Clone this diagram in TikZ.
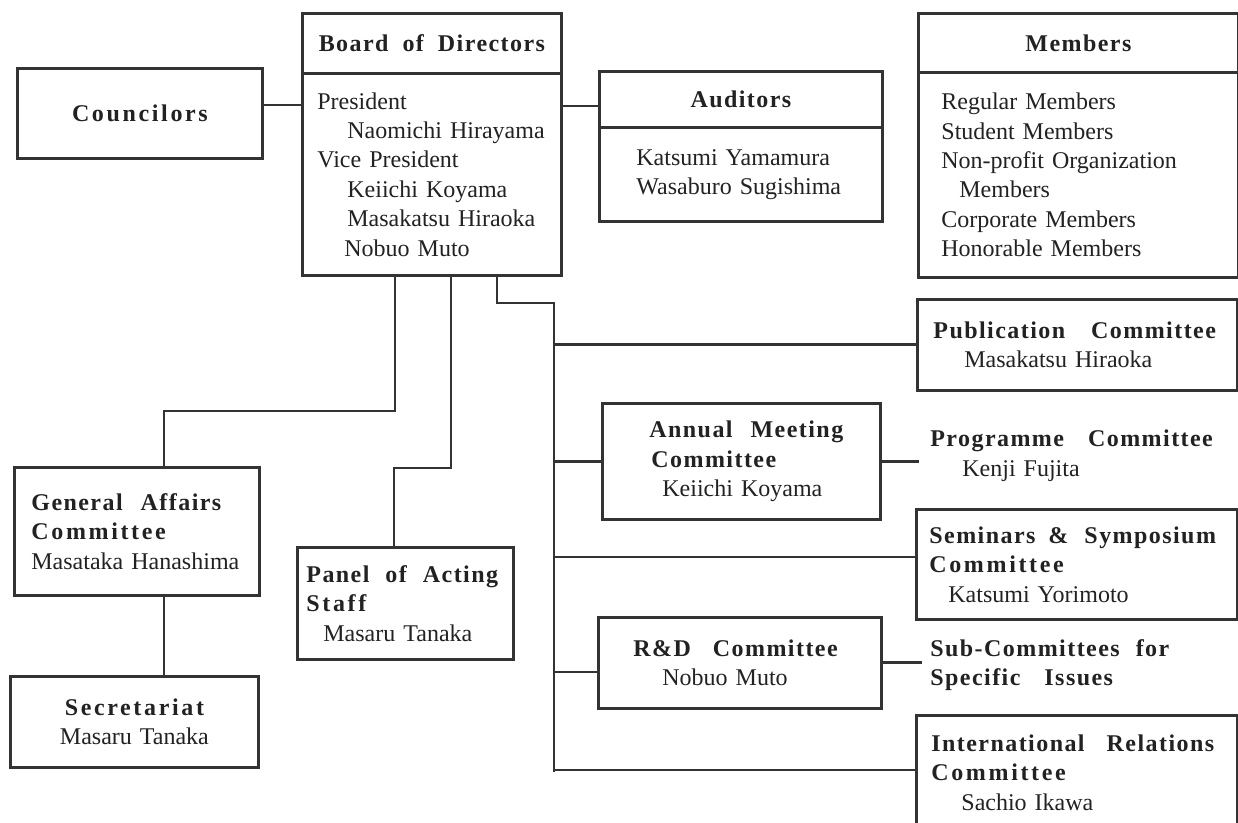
\documentclass[tikz,border=0pt]{standalone}
\usepackage{fontspec}
\setmainfont{Liberation Serif}
\newfontfamily\headfamily{Liberation Serif}[LetterSpace=6]
\newfontfamily\wideheadfamily{Liberation Serif}[LetterSpace=11]
\newcommand{\headfont}{\headfamily\bfseries\fontsize{12pt}{14.7pt}\selectfont}
\newcommand{\wideheadfont}{\wideheadfamily\bfseries\fontsize{12pt}{14.7pt}\selectfont}
\newcommand{\bodyfont}{\rmfamily\mdseries\fontsize{12pt}{14.7pt}\selectfont}
\newcommand{\lpad}[1]{\hspace*{#1}}
\definecolor{inkline}{HTML}{333333}
\definecolor{inktext}{HTML}{222222}
\tikzset{
  orgbox/.style={draw=inkline, line width=1.4pt, anchor=north west, inner xsep=0pt, inner ysep=0pt, align=left, font=\bodyfont, text=inktext},
  headbox/.style={orgbox, align=center, font=\headfont},
  freetext/.style={anchor=base west, inner ysep=0pt, align=left, font=\bodyfont, text=inktext, text width=150pt},
  link/.style={draw=inkline, line width=1.4pt}
}
\begin{document}
\begin{tikzpicture}[x=0.5pt,y=-0.5pt]
        \clip (0,0) rectangle (1238,823);
        \fill[white] (0,0) rectangle (1238,823);

        %top row
        \node[headbox, font=\wideheadfont, text width=122.5pt, minimum height=45pt] (councilors) at (16,67) {Councilors};
        \node[headbox, text width=129.5pt, minimum height=30pt] (boardhead) at (301,12) {Board\hspace{7pt}of\hspace{7pt}Directors};
        \node[orgbox, text width=129.5pt, minimum height=101pt] (boardbody) at (301,72)
          {\lpad{7.5pt}President\\\lpad{22.5pt}Naomichi Hirayama\\\lpad{7.5pt}Vice President\\\lpad{22.5pt}Keiichi Koyama\\\lpad{22.5pt}Masakatsu Hiraoka\\\lpad{21pt}Nobuo Muto};
        \node[headbox, text width=141.5pt, minimum height=28pt] (audhead) at (598,70) {Auditors};
        \node[orgbox, text width=141.5pt, minimum height=47pt] (audbody) at (598,126)
          {\lpad{18.5pt}Katsumi Yamamura\\\lpad{18.5pt}Wasaburo Sugishima};
        \node[headbox, text width=160pt, minimum height=29.5pt] (memhead) at (917,12) {Members};
        \node[orgbox, text width=160pt, minimum height=102.5pt] (membody) at (917,71)
          {\lpad{11.5pt}Regular Members\\\lpad{11.5pt}Student Members\\\lpad{11.5pt}Non-profit Organization\\\lpad{20.5pt}Members\\\lpad{11.5pt}Corporate Members\\\lpad{11.5pt}Honorable Members};

        %committees on the right
        \node[orgbox, text width=160pt, minimum height=45.5pt] (pub) at (916,298)
          {\headfont\lpad{8pt}Publication\hspace{13pt}Committee\\\bodyfont\lpad{23.5pt}Masakatsu Hiraoka};
        \node[orgbox, text width=139pt, minimum height=58pt] (annual) at (601,402)
          {\headfont\lpad{23.5pt}Annual\hspace{9pt}Meeting\\\lpad{24.5pt}Committee\\\bodyfont\lpad{30pt}Keiichi Koyama};
        \node[freetext, inner xsep=5.5pt] (prog) at (919,447)
          {\headfont Programme\hspace{12pt}Committee\\\bodyfont\lpad{16pt}Kenji Fujita};
        \node[orgbox, text width=160.5pt, minimum height=55pt] (sem) at (915,508)
          {\headfont\lpad{6.5pt}Seminars\hspace{6.5pt}\&\hspace{8pt}Symposium\\\wideheadfont\lpad{6.5pt}Committee\\\bodyfont\lpad{16pt}Katsumi Yorimoto};
        \node[orgbox, text width=141.5pt, minimum height=45.5pt] (rd) at (597,616)
          {\headfont\lpad{17.5pt}R\&D\hspace{11pt}Committee\\\bodyfont\lpad{32pt}Nobuo Muto};
        \node[freetext, inner xsep=4pt] (subc) at (922,656)
          {\headfont Sub-Committees\hspace{8pt}for\\Specific\hspace{12pt}Issues};
        \node[orgbox, text width=160.5pt, minimum height=57pt] (intl) at (915,714)
          {\headfont\lpad{7.5pt}International\hspace{11pt}Relations\\\wideheadfont\lpad{7.5pt}Committee\\\bodyfont\lpad{22.5pt}Sachio Ikawa};

        %committees on the left
        \node[orgbox, text width=122.5pt, minimum height=64pt] (general) at (13,466)
          {\headfont\lpad{8.5pt}General\hspace{9pt}Affairs\\\wideheadfont\lpad{8.5pt}Committee\\\bodyfont\lpad{8.5pt}Masataka Hanashima};
        \node[orgbox, text width=108pt, minimum height=56pt] (panel) at (296,546)
          {\headfont\lpad{4.5pt}Panel\hspace{8pt}of\hspace{8pt}Acting\\\wideheadfont\lpad{4.5pt}Staff\\\bodyfont\lpad{13pt}Masaru Tanaka};
        \node[orgbox, align=center, text width=124pt, minimum height=45.5pt] (sec) at (9,675)
          {\wideheadfont Secretariat\\\bodyfont Masaru Tanaka};

        %horizontal links at the top
        \coordinate (cbar) at (0,105);
        \coordinate (abar) at (0,106);
        \draw[link] (councilors.east |- cbar) -- (boardbody.west |- cbar);
        \draw[link] (boardbody.east |- abar) -- (audhead.west |- abar);

        %links down to the left
        \coordinate (ga) at (395,411);
        \coordinate (gb) at (164,411);
        \draw[link] (boardbody.south -| ga) -- (ga) -- (gb) -- (general.north -| gb);
        \draw[link] (general.south -| gb) -- (sec.north -| gb);
        \coordinate (pa) at (451,468);
        \coordinate (pb) at (394,468);
        \draw[link] (boardbody.south -| pa) -- (pa) -- (pb) -- (panel.north -| pb);

        %trunk and branches
        \coordinate (ta) at (497,303);
        \coordinate (tb) at (554,303);
        \coordinate (tc) at (554,772);
        \draw[link] (boardbody.south -| ta) -- (ta) -- (tb) -- (tc);
        \coordinate (sbar) at (0,557);
        \coordinate (rbar) at (0,672);
        \coordinate (ibar) at (0,770);
        \draw[link] (pub.west -| tb) -- (pub.west);
        \draw[link] (annual.west -| tb) -- (annual.west);
        \draw[link] (tb |- sbar) -- (sem.west |- sbar);
        \draw[link] (tb |- rbar) -- (rd.west |- rbar);
        \draw[link] (tb |- ibar) -- (intl.west |- ibar);

        %side links
        \draw[link] (annual.east) -- (annual.east -| prog.west);
        \draw[link] (rd.east) -- (rd.east -| subc.west);
\end{tikzpicture}
\end{document}
